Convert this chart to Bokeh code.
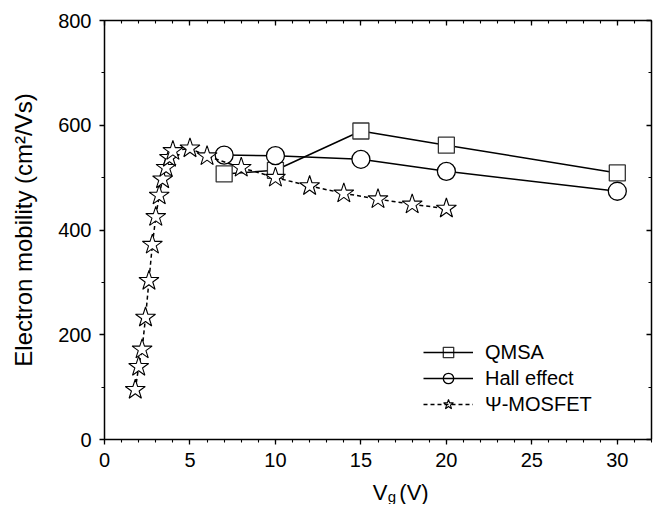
from bokeh.plotting import figure
from bokeh.layouts import column
from bokeh.models import (LinearAxis, Legend, LegendItem, FixedTicker, Range1d)
from bokeh.core.properties import value
from bokeh.embed import file_html
from bokeh.resources import INLINE

# ---- data ----
qmsa_x = [7, 10, 15, 20, 30]
qmsa_y = [507, 514, 589, 562, 509]

hall_x = [7, 10, 15, 20, 30]
hall_y = [543, 542, 535, 512, 474]

mos_x = [1.8, 2.0, 2.2, 2.4, 2.6, 2.8, 3.0, 3.2, 3.4, 3.6, 3.8, 4.0, 5, 6, 8, 10, 12, 14, 16, 18, 20]
mos_y = [95, 139, 172, 233, 303, 372, 425, 466, 497, 519, 538, 551, 556, 541, 519, 500, 484, 470, 459, 449, 441]

x_major = [0, 5, 10, 15, 20, 25, 30]
x_minor = list(range(0, 33))
y_major = [0, 200, 400, 600, 800]
y_minor = [0, 100, 200, 300, 400, 500, 600, 700, 800]

FONT = "Liberation Sans"

xr = Range1d(0, 32)
p = figure(width=654, height=471, output_backend="svg", toolbar_location=None,
           x_range=xr, y_range=Range1d(0, 800),
           min_border_left=104, min_border_right=3, min_border_top=20, min_border_bottom=32)
p.background_fill_color = "white"
p.border_fill_color = "white"
p.outline_line_color = None
p.xgrid.visible = False
p.ygrid.visible = False

def style_axis(ax, ticks, minor, show_labels, tick_in, tick_out):
    ax.ticker = FixedTicker(ticks=ticks, minor_ticks=minor)
    ax.axis_line_color = "black"
    ax.axis_line_width = 1.5
    ax.major_tick_line_color = "black"
    ax.minor_tick_line_color = "black"
    ax.major_tick_line_width = 1.3
    ax.minor_tick_line_width = 1.1
    ax.major_tick_in = tick_in
    ax.major_tick_out = tick_out
    ax.minor_tick_in = 3 if tick_in else 0
    ax.minor_tick_out = 3 if tick_out else 0
    ax.major_label_text_font = FONT
    if show_labels:
        ax.major_label_text_color = "black"
        ax.major_label_text_font_size = "20px"
    else:
        ax.major_label_text_color = None
        ax.major_label_text_font_size = "0px"
        ax.major_label_standoff = 0

xa = p.xaxis[0]
ya = p.yaxis[0]
style_axis(xa, x_major, x_minor, True, 0, 5)
style_axis(ya, y_major, y_minor, True, 0, 5)
xa.major_label_standoff = 8
ya.major_label_standoff = 8
ya.axis_label = "Electron mobility (cm\u00b2/Vs)"
ya.axis_label_text_font = FONT
ya.axis_label_text_font_size = "24px"
ya.axis_label_text_font_style = "normal"
ya.axis_label_text_color = "black"
ya.axis_label_standoff = 18

top = LinearAxis()
right = LinearAxis()
style_axis(top, x_major, x_minor, False, 5, 0)
style_axis(right, y_major, y_minor, False, 5, 0)
p.add_layout(top, "above")
p.add_layout(right, "right")

# ---- series ----
l1 = p.line(qmsa_x, qmsa_y, line_color="black", line_width=1.5)
s1 = p.scatter(qmsa_x, qmsa_y, marker="square", size=16, fill_color="white",
               line_color="#333333", line_width=1.3)
l2 = p.line(hall_x, hall_y, line_color="black", line_width=1.5)
s2 = p.scatter(hall_x, hall_y, marker="circle", size=18, fill_color="white",
               line_color="black", line_width=1.3)
l3 = p.line(mos_x, mos_y, line_color="black", line_width=1.5, line_dash="4 3")
s3 = p.scatter(mos_x, mos_y, marker="star", size=21, fill_color="white",
               line_color="black", line_width=1.1)

legend = Legend(items=[
    LegendItem(label="QMSA", renderers=[s1, l1]),
    LegendItem(label="Hall effect", renderers=[s2, l2]),
    LegendItem(label="\u03a8-MOSFET", renderers=[s3, l3]),
], location=(319, 22))
legend.label_text_font = FONT
legend.label_text_font_size = "20px"
legend.label_text_color = "black"
legend.glyph_width = 50
legend.glyph_height = 26
legend.label_height = 26
legend.label_standoff = 12
legend.spacing = 0
legend.padding = 0
legend.margin = 0
legend.border_line_color = None
legend.background_fill_alpha = 0
p.add_layout(legend, "center")

# ---- x axis title strip: V_g (V) ----
q = figure(width=654, height=33, output_backend="svg", toolbar_location=None,
           x_range=xr, y_range=Range1d(0, 33),
           x_axis_location=None, y_axis_location=None,
           min_border_left=104, min_border_right=3, min_border_top=0, min_border_bottom=0)
q.xgrid.visible = False
q.ygrid.visible = False
q.outline_line_color = None
q.background_fill_color = "white"
q.border_fill_color = "white"
q.text(x=[15.7], y=[12], text=["V"], text_font=value(FONT), text_font_size="22px",
       text_color="black", text_baseline="alphabetic")
q.text(x=[16.57], y=[8], text=["g"], text_font=value(FONT), text_font_size="15px",
       text_color="black", text_baseline="alphabetic")
q.text(x=[17.25], y=[12], text=["(V)"], text_font=value(FONT), text_font_size="22px",
       text_color="black", text_baseline="alphabetic")

layout = column(p, q, spacing=0)
open("out.html", "w").write(file_html(layout, INLINE))
